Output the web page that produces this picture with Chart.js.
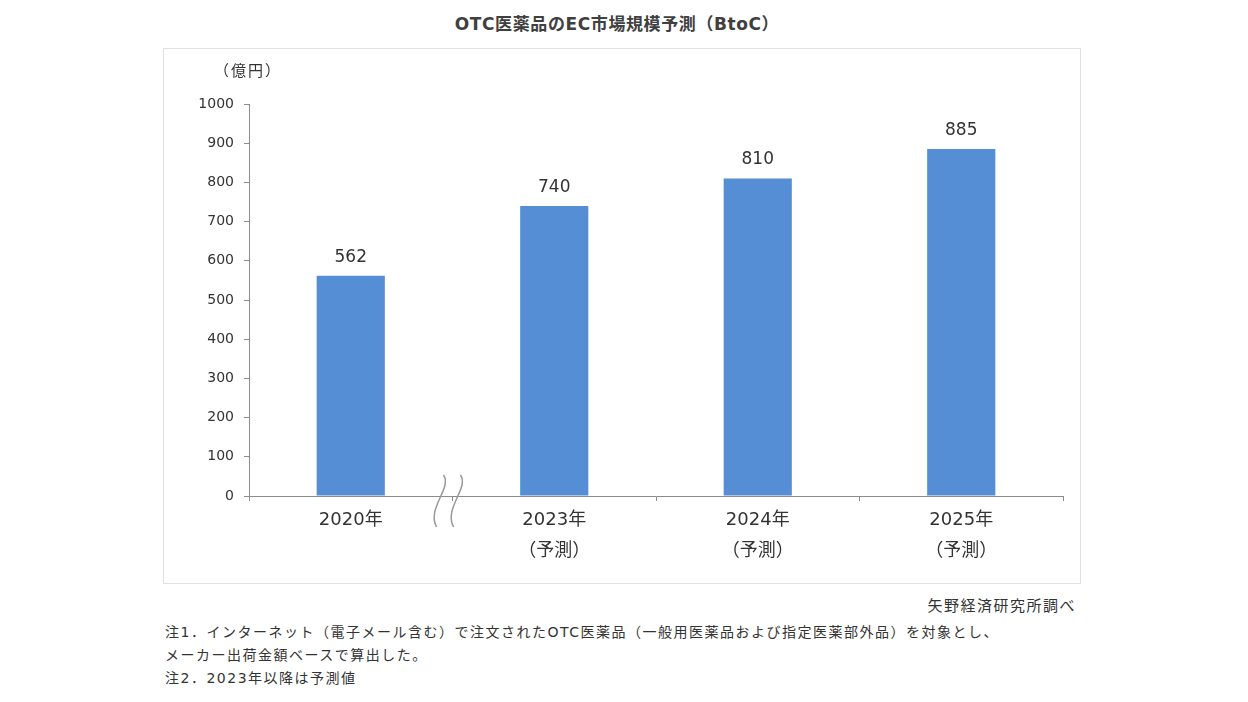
<!DOCTYPE html>
<html>
<head>
<meta charset="utf-8">
<script src="https://cdn.jsdelivr.net/npm/chart.js@4.4.0/dist/chart.umd.min.js"></script>
<style>
  body { margin: 0; background: #fff; font-family: "DejaVu Sans", "Noto Sans CJK JP", sans-serif; color: #333; }
  #title { position: absolute; left: 0; width: 1234px; top: 10px; text-align: center; font-size: 17px; font-weight: bold; letter-spacing: 0.6px; color: #404040; }
  #box { position: absolute; left: 163px; top: 48px; width: 916px; height: 534px; border: 1px solid #e0e0e0; }
  #unit { position: absolute; left: 214px; top: 59px; font-size: 15px; letter-spacing: 2px; }
  #source { position: absolute; right: 172px; top: 594px; font-size: 15px; letter-spacing: 1.5px; }
  .note { position: absolute; left: 165px; font-size: 14px; letter-spacing: 1.5px; }
</style>
</head>
<body>
<div id="title">OTC医薬品のEC市場規模予測（BtoC）</div>
<div id="box"><canvas id="chart"></canvas></div>
<div id="unit">（億円）</div>
<div id="source">矢野経済研究所調べ</div>
<div class="note" style="top:621px">注1．インターネット（電子メール含む）で注文されたOTC医薬品（一般用医薬品および指定医薬部外品）を対象とし、</div>
<div class="note" style="top:644px">メーカー出荷金額ベースで算出した。</div>
<div class="note" style="top:667px">注2．2023年以降は予測値</div>
<script>
// データ
const categories = [['2020年'], ['2023年', '（予測）'], ['2024年', '（予測）'], ['2025年', '（予測）']];
const marketSize = [562, 740, 810, 885];
const yTicks = [0, 100, 200, 300, 400, 500, 600, 700, 800, 900, 1000];

const barColor = '#558ed5';
const axisColor = '#8c8c8c';
const fontFamily = '"DejaVu Sans", "Noto Sans CJK JP", sans-serif';

// 棒の上に値を表示
const valueLabels = {
  id: 'valueLabels',
  afterDatasetsDraw(chart) {
    const ctx = chart.ctx;
    const meta = chart.getDatasetMeta(0);
    ctx.save();
    ctx.font = '17px ' + fontFamily;
    ctx.fillStyle = '#333';
    ctx.textAlign = 'center';
    ctx.textBaseline = 'bottom';
    meta.data.forEach((bar, i) => {
      ctx.fillText(marketSize[i], bar.x, bar.y - 10);
    });
    ctx.restore();
  }
};

// 2020年と2023年の間の省略記号
const breakMark = {
  id: 'breakMark',
  afterDraw(chart) {
    const x = chart.scales.x;
    const y0 = chart.scales.y.getPixelForValue(0);
    const mid = (x.getPixelForValue(0) + x.getPixelForValue(1)) / 2 - 12;
    const ctx = chart.ctx;
    ctx.save();
    ctx.strokeStyle = '#999';
    ctx.lineWidth = 1.5;
    [0, 17].forEach(dx => {
      const cx = mid + dx;
      ctx.beginPath();
      ctx.moveTo(cx + 3, y0 - 21);
      ctx.bezierCurveTo(cx + 12, y0 - 8, cx - 14, y0 + 12, cx - 4, y0 + 31);
      ctx.stroke();
    });
    ctx.restore();
  }
};

new Chart(document.getElementById('chart'), {
  type: 'bar',
  data: {
    labels: categories,
    datasets: [{
      data: marketSize,
      backgroundColor: barColor,
      barPercentage: 0.335,
      categoryPercentage: 1
    }]
  },
  options: {
    responsive: true,
    maintainAspectRatio: false,
    animation: false,
    layout: { padding: { top: 55, right: 17, left: 0, bottom: 0 } },
    plugins: { legend: { display: false }, tooltip: { enabled: false } },
    scales: {
      x: {
        grid: { display: true, drawOnChartArea: false, tickLength: 5, color: axisColor },
        border: { color: axisColor },
        ticks: { color: '#333', font: { size: 18, family: fontFamily, lineHeight: 1.7 }, padding: 4, maxRotation: 0 },
        afterFit(scale) { scale.height = 87; }
      },
      y: {
        min: 0,
        max: 1000,
        afterBuildTicks(scale) { scale.ticks = yTicks.map(v => ({ value: v })); },
        grid: { display: true, drawOnChartArea: false, tickLength: 5, color: axisColor },
        border: { color: axisColor },
        ticks: { color: '#333', font: { size: 14, family: fontFamily }, padding: 10, callback: v => String(v) },
        afterFit(scale) { scale.width = 85; }
      }
    }
  },
  plugins: [valueLabels, breakMark]
});
</script>
</body>
</html>
